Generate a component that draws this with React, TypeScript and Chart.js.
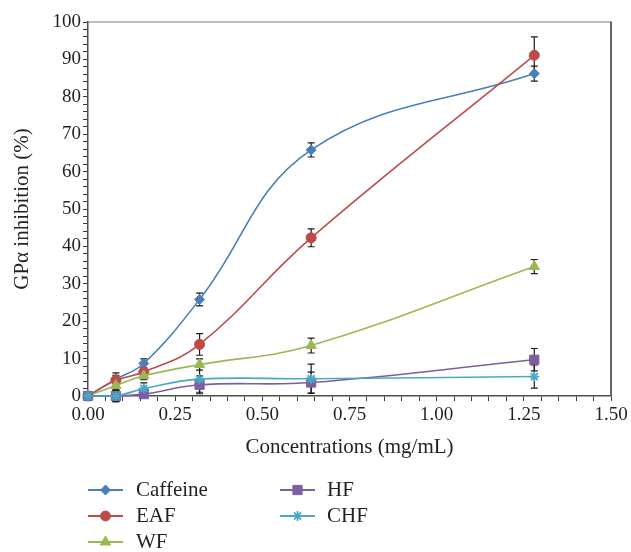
import React, { useEffect, useRef } from 'react';
import { Chart, registerables } from 'chart.js';
import { drawPoint } from 'chart.js/helpers';

Chart.register(...registerables);

// ---- data ----
const concentrations = [0, 0.08, 0.16, 0.32, 0.64, 1.28];
const seriesNames = ['Caffeine', 'EAF', 'WF', 'HF', 'CHF'];
const caffeine = [0, 4.5, 8.7, 25.8, 65.8, 86.2];
const caffeineErr = [0, 1.0, 1.2, 1.7, 1.9, 2.0];
const eaf = [0, 4.2, 6.4, 13.8, 42.3, 91.1];
const eafErr = [0, 2.0, 1.0, 2.9, 2.4, 4.9];
const wf = [0, 2.8, 5.4, 8.4, 13.5, 34.6];
const wfErr = [0, 1.0, 1.0, 1.5, 2.0, 1.9];
const hf = [0, 0, 0.5, 3.0, 3.6, 9.7];
const hfErr = [0, 1.5, 0.5, 2.4, 2.8, 3.0];
const chf = [0, 0, 2.0, 4.5, 4.6, 5.2];
const chfErr = [0, 1.5, 1.5, 3.5, 3.9, 3.1];
const xTickLabels = ['0.00', '0.25', '0.50', '0.75', '1.00', '1.25', '1.50'];
const yTickLabels = ['0', '10', '20', '30', '40', '50', '60', '70', '80', '90', '100'];
const xTitle = 'Concentrations (mg/mL)';
const yTitle = 'GPα inhibition (%)';

const colors = ['#4a7ebb', '#be4b48', '#98b954', '#7d5fa0', '#46aac5'];
const markers = ['rectRot', 'circle', 'triangle', 'rect', 'star'];
const markerRadius = [5, 5, 6, 6.5, 5];

const FONT = '"Liberation Serif", "DejaVu Serif", serif';
const TEXT = '#231f20';

const errorBarPlugin = {
  id: 'errorBars',
  beforeDatasetsDraw(chart: any) {
    const { ctx, scales } = chart;
    ctx.save();
    ctx.strokeStyle = '#1a1a1a';
    ctx.lineWidth = 1.2;
    chart.data.datasets.forEach((ds: any) => {
      (ds.data as any[]).forEach((p: any, i: number) => {
        const e = ds.errors[i];
        if (!e) return;
        const x = scales.x.getPixelForValue(p.x);
        const y1 = scales.y.getPixelForValue(p.y + e);
        const y2 = scales.y.getPixelForValue(p.y - e);
        ctx.beginPath();
        ctx.moveTo(x, y1); ctx.lineTo(x, y2);
        ctx.moveTo(x - 3.5, y1); ctx.lineTo(x + 3.5, y1);
        ctx.moveTo(x - 3.5, y2); ctx.lineTo(x + 3.5, y2);
        ctx.stroke();
      });
    });
    ctx.restore();
  },
};

const framePlugin = {
  id: 'frameAndText',
  afterDraw(chart: any) {
    const { ctx, chartArea: a } = chart;
    ctx.save();
    // frame top & right
    ctx.strokeStyle = '#7f7f7f';
    ctx.lineWidth = 1.2;
    ctx.beginPath();
    ctx.moveTo(a.left, a.top);
    ctx.lineTo(a.right, a.top);
    ctx.stroke();
    ctx.strokeStyle = '#666666';
    ctx.lineWidth = 2;
    ctx.beginPath();
    ctx.moveTo(a.right, a.top - 0.6);
    ctx.lineTo(a.right, a.bottom);
    ctx.stroke();

    // titles
    ctx.fillStyle = TEXT;
    ctx.font = `21px ${FONT}`;
    ctx.textAlign = 'center';
    ctx.textBaseline = 'middle';
    ctx.fillText(xTitle, (a.left + a.right) / 2, 447);
    ctx.save();
    ctx.translate(22, (a.top + a.bottom) / 2);
    ctx.rotate(-Math.PI / 2);
    ctx.fillText(yTitle, 0, 0);
    ctx.restore();

    // legend
    const rows = [490, 516, 542];
    const lineX = [88, 280];
    const textX = [136, 327];
    chart.data.datasets.forEach((ds: any, i: number) => {
      const col = i < 3 ? 0 : 1;
      const y = rows[i < 3 ? i : i - 3];
      const x0 = lineX[col];
      ctx.strokeStyle = ds.borderColor;
      ctx.lineWidth = 2;
      ctx.beginPath();
      ctx.moveTo(x0, y);
      ctx.lineTo(x0 + 35, y);
      ctx.stroke();
      ctx.fillStyle = ds.pointBackgroundColor;
      ctx.strokeStyle = ds.pointBorderColor;
      ctx.lineWidth = ds.pointBorderWidth;
      drawPoint(ctx, { pointStyle: ds.pointStyle, radius: ds.pointRadius, rotation: 0, borderWidth: ds.pointBorderWidth }, x0 + 17.5, y);
      ctx.fillStyle = TEXT;
      ctx.font = `21px ${FONT}`;
      ctx.textAlign = 'left';
      ctx.textBaseline = 'middle';
      ctx.fillText(ds.label, textX[col], y);
    });
    ctx.restore();
  },
};

const isMult = (v: number, s: number) => Math.abs(v / s - Math.round(v / s)) < 1e-6;

export default function App() {
  const ref = useRef<HTMLCanvasElement | null>(null);
  useEffect(() => {
    if (!ref.current) return;
    const series = [caffeine, eaf, wf, hf, chf];
    const errs = [caffeineErr, eafErr, wfErr, hfErr, chfErr];
    const datasets = seriesNames.map((name, k) => ({
      label: name,
      data: concentrations.map((x, i) => ({ x, y: series[k][i] })),
      errors: errs[k],
      borderColor: colors[k],
      backgroundColor: colors[k],
      pointBackgroundColor: colors[k],
      pointBorderColor: colors[k],
      pointBorderWidth: k === 4 ? 1.8 : 1,
      pointStyle: markers[k],
      pointRadius: markerRadius[k],
      borderWidth: 1.6,
      tension: 0.4,
      clip: false,
      order: 5 - k,
    }));
    const chart = new Chart(ref.current, {
      type: 'line',
      data: { datasets } as any,
      options: {
        animation: false,
        responsive: false,
        events: [],
        layout: { padding: { top: 22, right: 20, bottom: 86, left: 0 } },
        plugins: { legend: { display: false }, tooltip: { enabled: false } },
        scales: {
          x: {
            type: 'linear',
            min: 0,
            max: 1.5,
            afterFit: (s: any) => { s.height = 70; },
            ticks: {
              stepSize: 0.05,
              maxTicksLimit: 100,
              autoSkip: false,
              maxRotation: 0,
              minRotation: 0,
              padding: 3,
              color: TEXT,
              font: { family: FONT, size: 19 },
              callback: (v: any) => (isMult(v, 0.25) ? xTickLabels[Math.round(v / 0.25)] : ''),
            },
            grid: { drawOnChartArea: false, drawTicks: true, tickLength: 5, color: '#3a3a3a', lineWidth: 1 },
            border: { color: '#4d4d4d', width: 1.5 },
          },
          y: {
            min: 0,
            max: 100,
            afterFit: (s: any) => { s.width = 88; },
            ticks: {
              stepSize: 2,
              maxTicksLimit: 100,
              autoSkip: false,
              padding: 2,
              color: TEXT,
              font: { family: FONT, size: 19 },
              callback: (v: any) => (isMult(v, 10) ? yTickLabels[Math.round(v / 10)] : ''),
            },
            grid: { drawOnChartArea: false, drawTicks: true, tickLength: 5, color: '#3a3a3a', lineWidth: 1 },
            border: { color: '#4d4d4d', width: 1.5 },
          },
        },
      },
      plugins: [errorBarPlugin, framePlugin],
    } as any);
    return () => chart.destroy();
  }, []);
  return (
    <div style={{ position: 'absolute', left: 0, top: 0, width: 631, height: 552, background: '#fff' }}>
      <canvas ref={ref} width={631} height={552} style={{ width: 631, height: 552, display: 'block' }} />
    </div>
  );
}
